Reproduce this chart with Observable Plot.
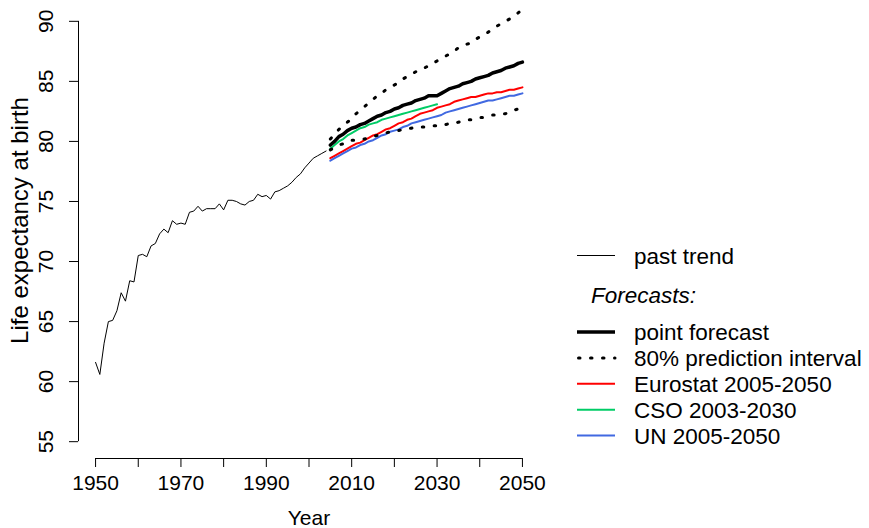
<!DOCTYPE html>
<html>
<head>
<meta charset="utf-8">
<script src="https://cdn.jsdelivr.net/npm/d3@7"></script>
<script src="https://cdn.jsdelivr.net/npm/@observablehq/plot@0.6"></script>
<style>
  html, body { margin: 0; padding: 0; background: #fff; }
  #wrap { position: relative; width: 869px; height: 528px; font-family: "Liberation Sans", Arial, sans-serif; }
  #wrap > svg { position: absolute; left: 0; top: 0; overflow: visible; }
</style>
</head>
<body>
<div id="wrap"></div>
<script>
// ---------- data ----------
const pastYears = d3.range(1950, 2005);
const pastValues = [
  61.6, 60.6, 63.2, 65.0, 65.1, 65.9, 67.4, 66.7, 68.4, 68.3,
  70.5, 70.6, 70.4, 71.3, 71.5, 72.3, 72.7, 72.4, 73.4, 73.1,
  73.2, 73.1, 74.1, 74.2, 74.6, 74.2, 74.4, 74.4, 74.4, 74.8,
  74.3, 75.1, 75.1, 75.0, 74.8, 74.7, 75.0, 75.1, 75.6, 75.4,
  75.5, 75.2, 75.8, 75.9, 76.1, 76.3, 76.6, 77.0, 77.3, 77.8,
  78.2, 78.6, 78.8, 79.0, 79.2
];

const fcYears = d3.range(2005, 2051);
const pointForecast = [
  79.7, 80.0, 80.4, 80.6, 80.9, 81.1, 81.2, 81.4, 81.5, 81.7,
  81.9, 82.1, 82.2, 82.4, 82.5, 82.7, 82.8, 83.0, 83.1, 83.2,
  83.4, 83.5, 83.6, 83.8, 83.8, 83.8, 84.0, 84.2, 84.4, 84.5,
  84.6, 84.8, 84.9, 85.0, 85.2, 85.3, 85.4, 85.5, 85.7, 85.8,
  85.9, 86.1, 86.2, 86.3, 86.5, 86.6
];
const upper80 = [
  80.2, 80.6, 81.0, 81.3, 81.6, 81.9, 82.3, 82.6, 82.9, 83.2,
  83.5, 83.8, 84.0, 84.3, 84.5, 84.7, 84.9, 85.2, 85.4, 85.6,
  85.8, 86.0, 86.1, 86.3, 86.5, 86.7, 86.9, 87.1, 87.3, 87.5,
  87.8, 88.0, 88.1, 88.2, 88.5, 88.7, 88.9, 89.1, 89.4, 89.6,
  89.8, 90.0, 90.2, 90.4, 90.7, 91.0
];
const lower80 = [
  79.3, 79.5, 79.7, 79.8, 80.0, 80.1, 80.1, 80.2, 80.2, 80.3,
  80.4, 80.5, 80.6, 80.7, 80.8, 80.9, 80.9, 81.0, 81.1, 81.1,
  81.2, 81.2, 81.2, 81.2, 81.3, 81.3, 81.3, 81.4, 81.5, 81.5,
  81.6, 81.7, 81.8, 81.8, 81.9, 82.0, 82.0, 82.1, 82.2, 82.2,
  82.3, 82.3, 82.5, 82.6, 82.7, 82.8
];
const eurostat = [
  78.6, 78.8, 79.0, 79.2, 79.4, 79.6, 79.8, 79.9, 80.1, 80.3,
  80.5, 80.6, 80.8, 81.0, 81.1, 81.3, 81.5, 81.6, 81.8, 81.9,
  82.1, 82.3, 82.4, 82.5, 82.6, 82.8, 82.9, 83.0, 83.1, 83.3,
  83.4, 83.5, 83.6, 83.7, 83.7, 83.8, 83.9, 84.0, 84.0, 84.1,
  84.1, 84.2, 84.3, 84.3, 84.4, 84.5
];
const csoYears = d3.range(2005, 2031);
const cso = [
  79.4, 79.7, 80.0, 80.2, 80.5, 80.7, 80.9, 81.1, 81.2, 81.4,
  81.5, 81.6, 81.8, 81.9, 82.0, 82.1, 82.2, 82.3, 82.4, 82.5,
  82.6, 82.7, 82.8, 82.9, 83.0, 83.1
];
const un = [
  78.4, 78.6, 78.8, 79.0, 79.2, 79.4, 79.5, 79.7, 79.8, 80.0,
  80.1, 80.3, 80.5, 80.6, 80.8, 80.9, 81.0, 81.2, 81.3, 81.5,
  81.6, 81.7, 81.8, 81.9, 82.0, 82.1, 82.2, 82.4, 82.5, 82.6,
  82.7, 82.8, 82.9, 83.0, 83.1, 83.2, 83.3, 83.4, 83.4, 83.5,
  83.6, 83.7, 83.8, 83.8, 83.9, 84.0
];

const xTicks = d3.range(1950, 2051, 10);
const xLabelTicks = [1950, 1970, 1990, 2010, 2030, 2050];
const yTicks = [55, 60, 65, 70, 75, 80, 85, 90];

const legendItems = [
  {label: "point forecast", kind: "thick"},
  {label: "80% prediction interval", kind: "dotted"},
  {label: "Eurostat 2005-2050", kind: "eurostat"},
  {label: "CSO 2003-2030", kind: "cso"},
  {label: "UN 2005-2050", kind: "un"}
];
const colors = {eurostat: "#ff0000", cso: "#00cc66", un: "#4169e1"};

// ---------- tables ----------
const zip = (xs, vs) => xs.map((x, i) => ({year: x, v: vs[i]}));
const past = zip(pastYears, pastValues);
const pf = zip(fcYears, pointForecast);
const up = zip(fcYears, upper80);
const lo = zip(fcYears, lower80);
const eu = zip(fcYears, eurostat);
const cs = zip(csoYears, cso);
const u = zip(fcYears, un);

const xDomain = [1946, 2054];
const yDomain = [53.6, 91.4];
const FS = 21;
const dotted = {stroke: "black", strokeWidth: 3, strokeDasharray: "1.5,10.5", strokeLinecap: "round"};

const chart = Plot.plot({
  width: 869, height: 528,
  marginLeft: 78, marginRight: 330, marginTop: 4, marginBottom: 70,
  x: {domain: xDomain},
  y: {domain: yDomain},
  style: {fontFamily: "'Liberation Sans', Arial, sans-serif", fontSize: FS + "px", color: "black", background: "white", overflow: "visible"},
  marks: [
    Plot.ruleX([xDomain[0]], {y1: yTicks[0], y2: yTicks[yTicks.length - 1], stroke: "black"}),
    Plot.ruleY([yDomain[0]], {x1: xTicks[0], x2: xTicks[xTicks.length - 1], stroke: "black"}),
    Plot.axisX({ticks: xTicks, tickSize: 9, tickPadding: 8, label: null, fontSize: FS,
      tickFormat: d => xLabelTicks.includes(d) ? String(d) : ""}),
    Plot.axisY({ticks: yTicks, tickSize: 9, label: null, tickFormat: () => ""}),
    Plot.text(yTicks, {y: d => d, text: d => String(d), frameAnchor: "left", dx: -32, rotate: -90,
      textAnchor: "middle", lineAnchor: "middle", fontSize: FS}),
    Plot.text(["Life expectancy at birth"], {text: d => d, frameAnchor: "left", dx: -58, dy: -11, rotate: -90,
      textAnchor: "middle", lineAnchor: "middle", fontSize: 24}),
    Plot.text(["Year"], {text: d => d, frameAnchor: "bottom", dy: 60, textAnchor: "middle", lineAnchor: "middle", fontSize: FS}),
    Plot.line(past, {x: "year", y: "v", stroke: "black", strokeWidth: 1}),
    Plot.line(eu, {x: "year", y: "v", stroke: colors.eurostat, strokeWidth: 2}),
    Plot.line(cs, {x: "year", y: "v", stroke: colors.cso, strokeWidth: 2}),
    Plot.line(u, {x: "year", y: "v", stroke: colors.un, strokeWidth: 2}),
    Plot.line(up, {x: "year", y: "v", ...dotted}),
    Plot.line(lo, {x: "year", y: "v", ...dotted}),
    Plot.line(pf, {x: "year", y: "v", stroke: "black", strokeWidth: 3.5})
  ]
});
document.getElementById("wrap").appendChild(chart);

// ---------- legend (overlay, right side) ----------
const lg = d3.select("#wrap").append("svg")
  .attr("width", 869).attr("height", 528)
  .style("pointer-events", "none")
  .style("font-family", "'Liberation Sans', Arial, sans-serif")
  .style("font-size", "22.5px");

const lx0 = 577, lx1 = 615, tx = 634;
function sample(g, kind, y) {
  const ln = g.append("line").attr("x1", lx0).attr("x2", lx1).attr("y1", y).attr("y2", y);
  if (kind === "past") ln.attr("stroke", "black").attr("stroke-width", 1);
  else if (kind === "thick") ln.attr("stroke", "black").attr("stroke-width", 3.5);
  else if (kind === "dotted") ln.attr("stroke", "black").attr("stroke-width", 3)
    .attr("stroke-dasharray", "1.5,10.5").attr("stroke-linecap", "round").attr("x1", lx0 + 1.5);
  else ln.attr("stroke", colors[kind]).attr("stroke-width", 2);
}
sample(lg, "past", 255.5);
lg.append("text").attr("x", tx).attr("y", 256).attr("dominant-baseline", "central").text("past trend");
lg.append("text").attr("x", 591).attr("y", 295).attr("dominant-baseline", "central")
  .attr("font-style", "italic").text("Forecasts:");
legendItems.forEach((d, i) => {
  const y = 332 + i * 25.9;
  sample(lg, d.kind, y);
  lg.append("text").attr("x", tx).attr("y", y + 0.5).attr("dominant-baseline", "central").text(d.label);
});
</script>
</body>
</html>
